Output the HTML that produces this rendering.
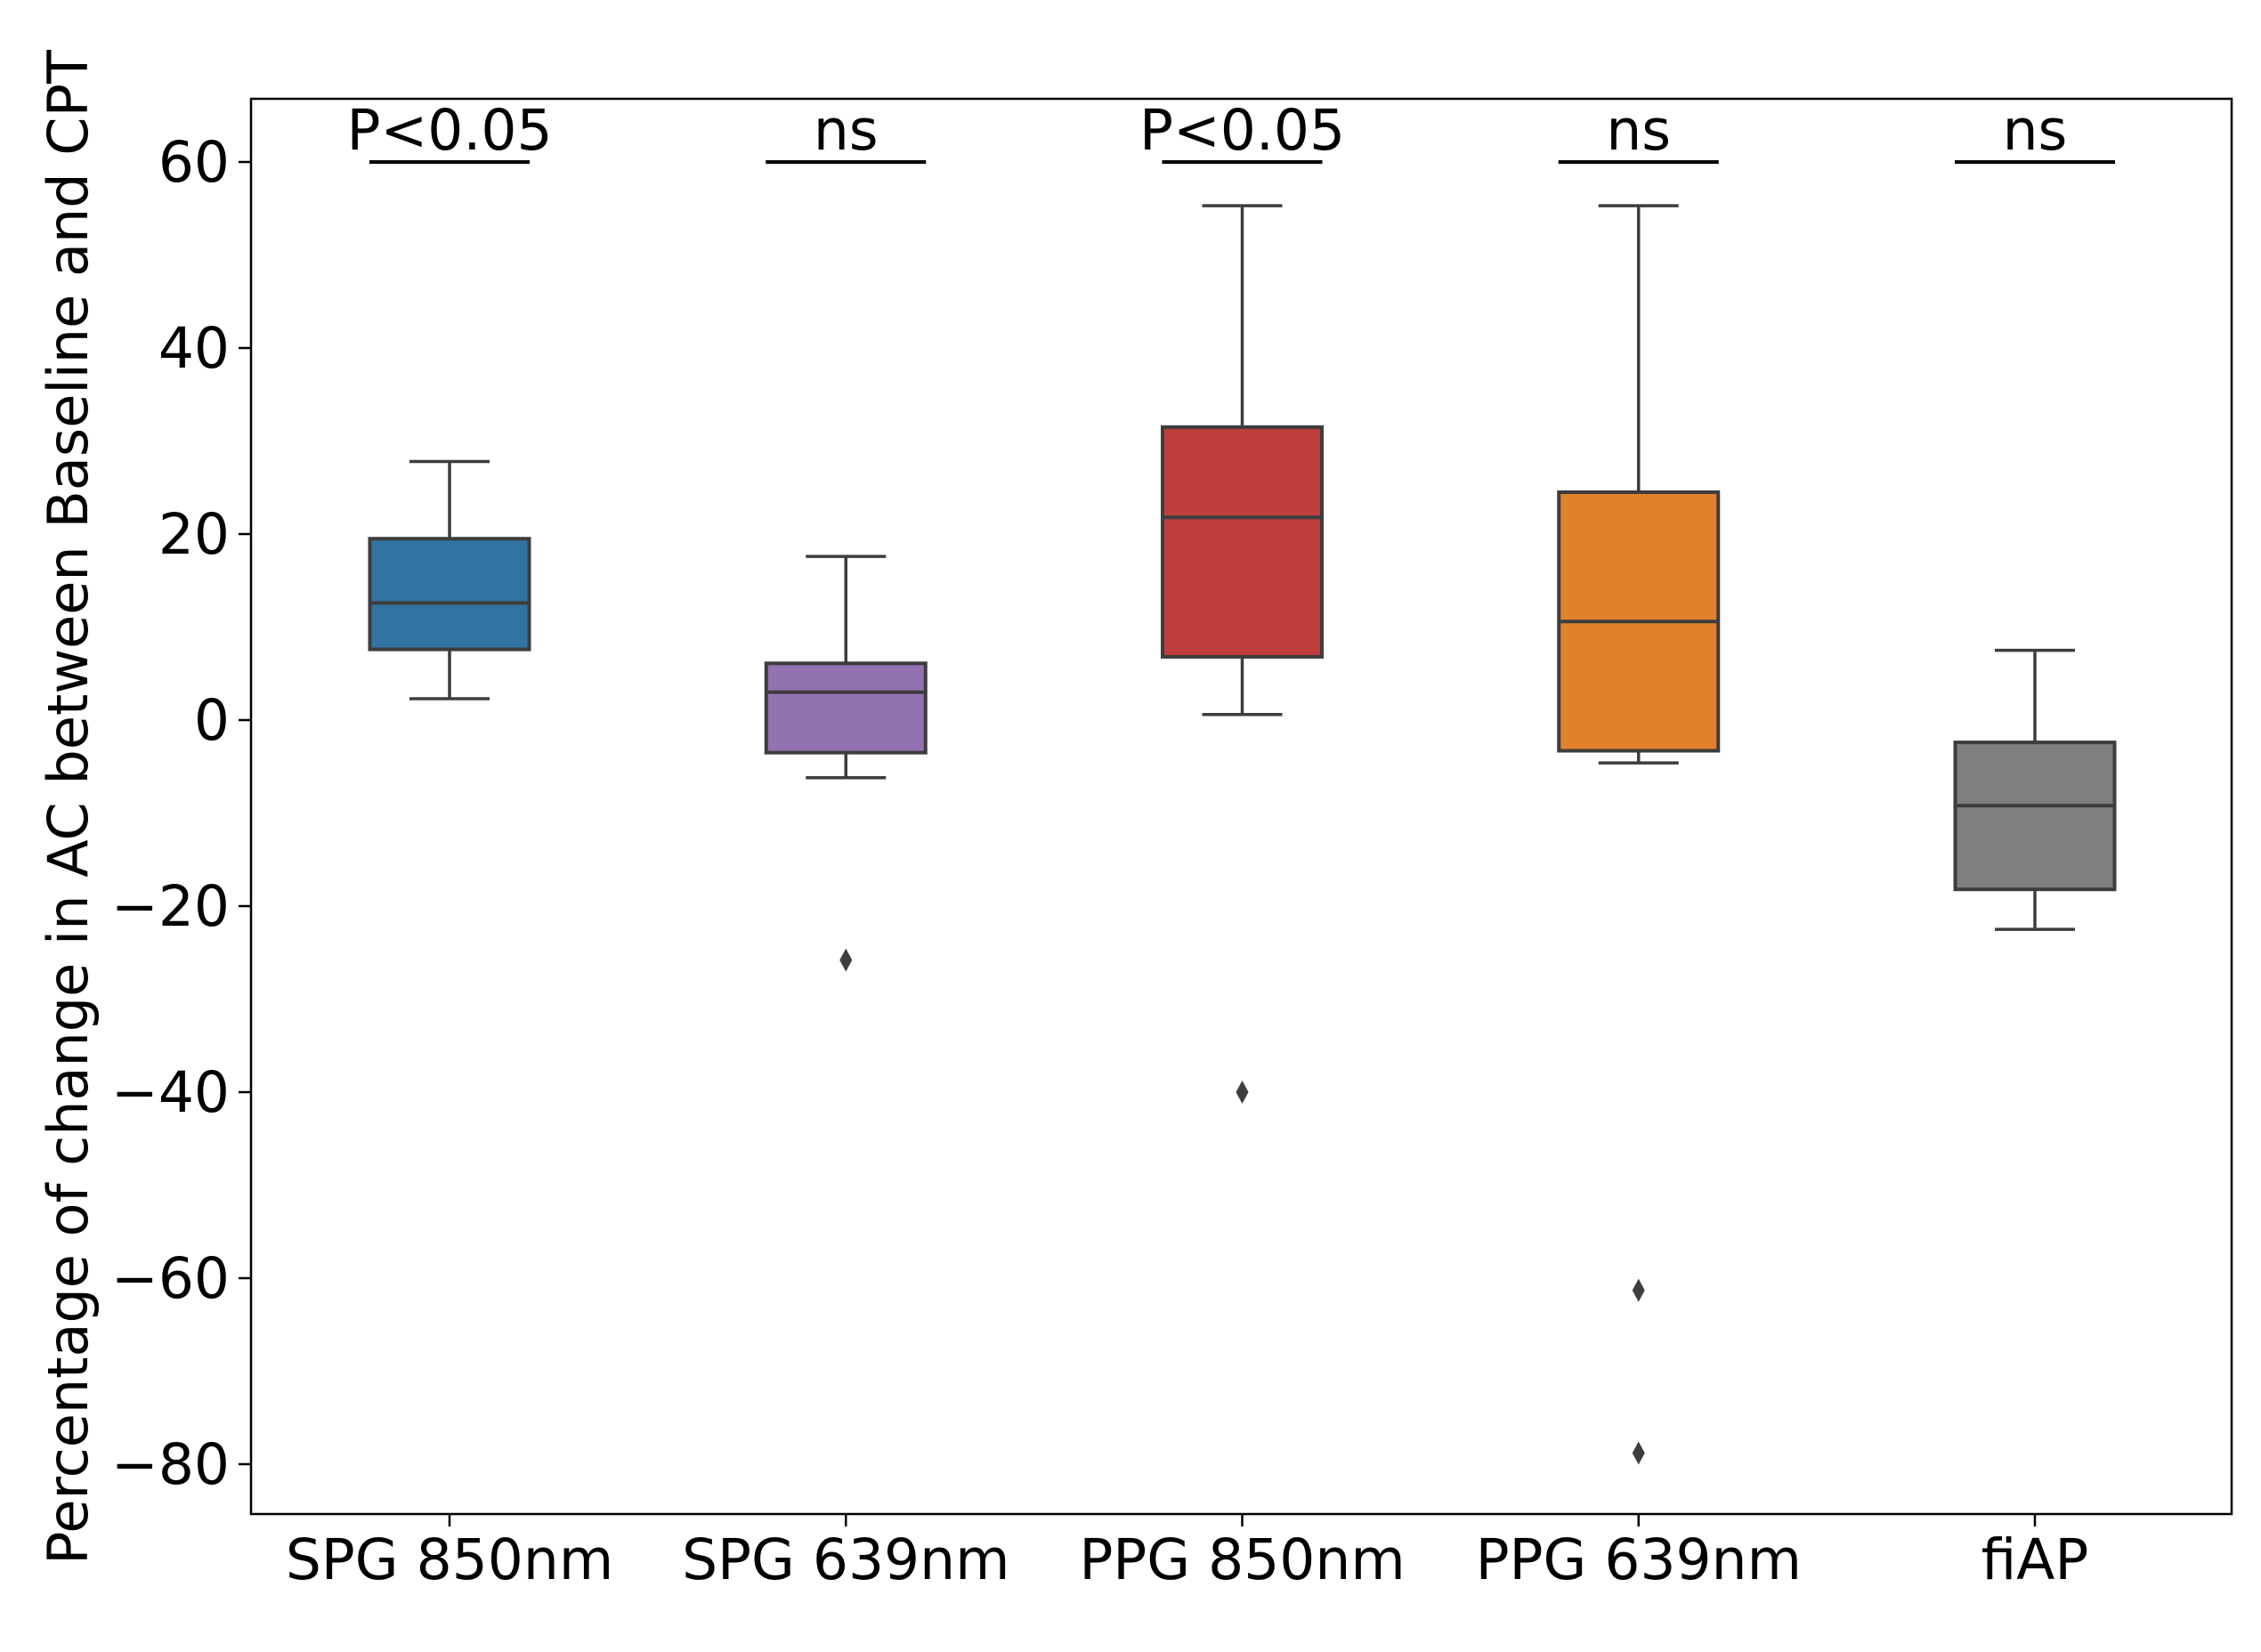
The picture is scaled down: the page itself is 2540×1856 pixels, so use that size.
<!DOCTYPE html>
<html><head><meta charset="utf-8"><style>
body{margin:0;background:#fff}
text{font-family:"DejaVu Sans","Liberation Sans",sans-serif;fill:#000}
</style></head><body>
<svg id="chart" width="2540" height="1851" viewBox="0 0 2540 1851" xmlns="http://www.w3.org/2000/svg">
<rect x="282" y="111" width="2225" height="1590" fill="none" stroke="#000" stroke-width="2.5"/>
<g id="g"></g>
<text transform="translate(98,907) rotate(-90)" text-anchor="middle" font-size="62">Percentage of change in AC between Baseline and CPT</text>
</svg>
<script>
const categories=["SPG 850nm","SPG 639nm","PPG 850nm","PPG 639nm","fiAP"];
const colors=["#3274a1","#9372b2","#c03d3e","#e1812c","#7f7f7f"];
const whiskLow=[2.3,-6.2,0.6,-4.6,-22.5];
const q1=[7.6,-3.5,6.8,-3.3,-18.2];
const median=[12.6,3.0,21.8,10.6,-9.2];
const q3=[19.5,6.1,31.5,24.5,-2.4];
const whiskHigh=[27.8,17.6,55.3,55.3,7.5];
const outliers=[[],[-25.8],[-40],[-61.3,-78.8],[]];
const sigLabels=["P<0.05","ns","P<0.05","ns","ns"];
const sigLevel=60;
const yTicks=[60,40,20,0,-20,-40,-60,-80];
const NS="http://www.w3.org/2000/svg";
const g=document.getElementById('g');
function y(v){return 809-v*(809-182)/60;}
function x(i){return 505+i*445.25;}
const bw=179;
function mk(t,a){const e=document.createElementNS(NS,t);for(const k in a)e.setAttribute(k,a[k]);g.appendChild(e);return e;}
yTicks.forEach(v=>{
 const t=mk('line',{x1:268,x2:282,y1:y(v),y2:y(v),stroke:'#000','stroke-width':2.5});
 
 
 const l=mk('text',{x:258,y:y(v)+22,'text-anchor':'end','font-size':63});
 l.textContent=v<0?'\u2212'+(-v):String(v);
 
 
});
categories.forEach((c,i)=>{
 const cx=x(i),s='#3d3d3d';
 const t=mk('line',{x1:cx,x2:cx,y1:1701,y2:1715,stroke:'#000','stroke-width':2.5});
 
 
 const l=mk('text',{x:cx,y:1774,'text-anchor':'middle','font-size':63});
 l.textContent=c;
 
 
 const w1=mk('line',{x1:cx,x2:cx,y1:y(whiskHigh[i]),y2:y(q3[i]),stroke:s,'stroke-width':3.5});
 
 
 const w2=mk('line',{x1:cx,x2:cx,y1:y(q1[i]),y2:y(whiskLow[i]),stroke:s,'stroke-width':3.5});
 
 
 [whiskHigh[i],whiskLow[i]].forEach(v=>{
  const cap=mk('line',{x1:cx-45,x2:cx+45,y1:y(v),y2:y(v),stroke:s,'stroke-width':3.5});
  
  
 });
 const b=mk('rect',{x:cx-bw/2,y:y(q3[i]),width:bw,height:y(q1[i])-y(q3[i]),fill:colors[i],stroke:s,'stroke-width':4});
 
 
 const m=mk('line',{x1:cx-bw/2,x2:cx+bw/2,y1:y(median[i]),y2:y(median[i]),stroke:s,'stroke-width':4});
 
 
 outliers[i].forEach(v=>{
  const o=mk('path',{d:`M${cx},${y(v)-13}L${cx+7},${y(v)}L${cx},${y(v)+13}L${cx-7},${y(v)}Z`,fill:s});
  
  
 });
 const sb=mk('line',{x1:cx-90,x2:cx+90,y1:y(sigLevel),y2:y(sigLevel),stroke:'#000','stroke-width':4});
 
 
 const st=mk('text',{x:cx,y:y(sigLevel)-14,'text-anchor':'middle','font-size':63});
 st.textContent=sigLabels[i];
 
 
});
</script>
</body></html>
